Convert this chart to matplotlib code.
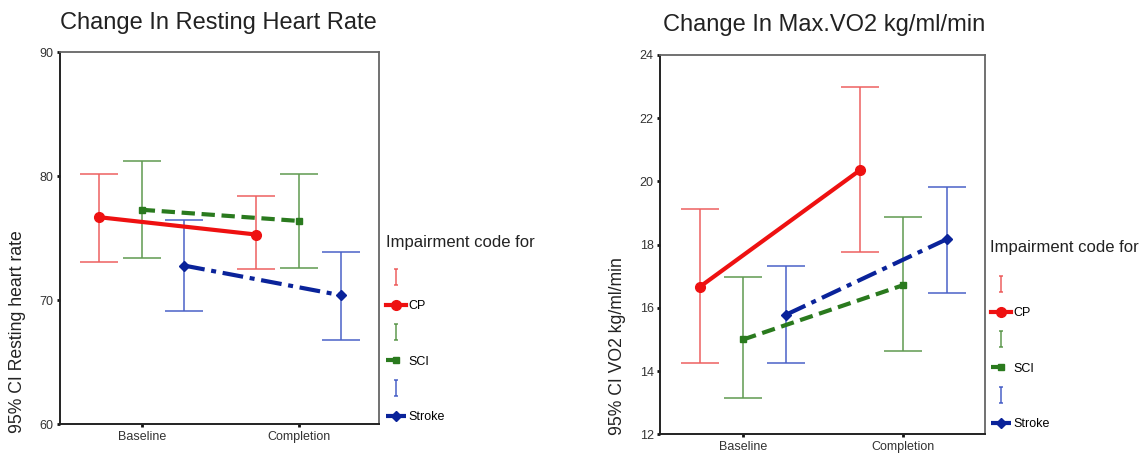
import matplotlib
matplotlib.use("Agg")
import matplotlib.pyplot as plt
from matplotlib.lines import Line2D
from matplotlib.path import Path
import numpy as np

plt.rcParams['font.family'] = ['Liberation Sans', 'DejaVu Sans']

phases = ['Baseline', 'Completion']
groups = ['CP', 'SCI', 'Stroke']

# Resting heart rate: mean, lower CI, upper CI per group (Baseline, Completion)
hr_mean_cp = [76.7, 75.3]
hr_lo_cp = [73.1, 72.5]
hr_hi_cp = [80.2, 78.4]
hr_mean_sci = [77.3, 76.4]
hr_lo_sci = [73.4, 72.6]
hr_hi_sci = [81.2, 80.2]
hr_mean_stroke = [72.8, 70.4]
hr_lo_stroke = [69.1, 66.8]
hr_hi_stroke = [76.5, 73.9]

# Max VO2
vo2_mean_cp = [16.67, 20.36]
vo2_lo_cp = [14.24, 17.76]
vo2_hi_cp = [19.13, 23.0]
vo2_mean_sci = [15.0, 16.72]
vo2_lo_sci = [13.14, 14.64]
vo2_hi_sci = [16.98, 18.88]
vo2_mean_stroke = [15.79, 18.17]
vo2_lo_stroke = [14.27, 16.48]
vo2_hi_stroke = [17.33, 19.83]

hr_yticks = [60, 70, 80, 90]
vo2_yticks = [12, 14, 16, 18, 20, 22, 24]

line_colors = ['#ee1111', '#2a7a1e', '#0a239a']
err_colors = ['#ee6060', '#5f9a50', '#4a62c8']
styles = ['-', (0, (3.2, 1.6)), (0, (5, 1.6, 1.2, 1.6))]
markers = ['o', 's', 'D']
msizes = [7, 5, 5.5]
offsets = [-0.27, 0.0, 0.27]

# small "I" glyph for the error-bar legend entries
ibar = Path([(-0.3, -1), (0.3, -1), (0, -1), (0, 1), (-0.3, 1), (0.3, 1)],
            [Path.MOVETO, Path.LINETO, Path.MOVETO, Path.LINETO, Path.MOVETO, Path.LINETO])

fig = plt.figure(figsize=(11.46, 4.55), dpi=100)

def panel(rect, means, los, his, yticks, ylim, title, title_xy, ylabel, ylabel_xy,
          legtitle_xy, leg_xy):
    ax = fig.add_axes(rect)
    x = np.arange(len(phases))
    ln_handles = []
    for i, g in enumerate(groups):
        xx = x + offsets[i]
        m = np.array(means[i]); lo = np.array(los[i]); hi = np.array(his[i])
        ax.errorbar(xx, m, yerr=[m - lo, hi - m], fmt='none', ecolor=err_colors[i],
                    elinewidth=1.1, capsize=14, capthick=1.1, zorder=2)
        ln, = ax.plot(xx, m, color=line_colors[i], linestyle=styles[i], lw=3,
                      marker=markers[i], markersize=msizes[i], zorder=3)
        ln_handles.append(ln)
    ax.set_xlim(-0.52, 1.51)
    ax.set_ylim(*ylim)
    ax.set_xticks(x)
    ax.set_xticklabels(phases, fontsize=9, color='#333333')
    ax.set_yticks(yticks)
    ax.set_yticklabels([str(t) for t in yticks], fontsize=9, color='#333333')
    ax.tick_params(axis='both', length=2.5, width=2, color='#111111', pad=2)
    for s in ['left', 'bottom']:
        ax.spines[s].set_color('#222222')
        ax.spines[s].set_linewidth(1.4)
    for s in ['top', 'right']:
        ax.spines[s].set_color('#666666')
        ax.spines[s].set_linewidth(1.3)
    fig.text(title_xy[0], title_xy[1], title, fontsize=17, ha='center', va='center', color='#222222')
    fig.text(ylabel_xy[0], ylabel_xy[1], ylabel, fontsize=12.7, rotation=90, ha='center', va='bottom',
             color='#222222')
    fig.text(legtitle_xy[0], legtitle_xy[1], 'Impairment code for', fontsize=12, ha='left',
             va='center', color='#222222')
    handles, labels = [], []
    for i, g in enumerate(groups):
        ih = Line2D([], [], linestyle='none', marker=ibar, markersize=11, markeredgewidth=1.1,
                    markeredgecolor=err_colors[i], markerfacecolor='none')
        handles += [ih, ln_handles[i]]
        labels += ['', g]
    ax.legend(handles, labels, loc='upper left', bbox_to_anchor=leg_xy,
              bbox_transform=fig.transFigure, frameon=False, fontsize=9,
              handlelength=1.6, handletextpad=0.2, labelspacing=1.27, borderpad=0,
              borderaxespad=0)
    return ax

panel([60/1146, 1 - 424.3/455, 319/1146, 372/455],
      [hr_mean_cp, hr_mean_sci, hr_mean_stroke],
      [hr_lo_cp, hr_lo_sci, hr_lo_stroke],
      [hr_hi_cp, hr_hi_sci, hr_hi_stroke],
      hr_yticks, (60, 90), 'Change In Resting Heart Rate', (218/1146, 1 - 23/455),
      '95% CI Resting heart rate', (18/1146, 1 - 433/455),
      (386/1146, 1 - 242/455), (386/1146, 1 - 272/455))

panel([660/1146, 1 - 434.3/455, 325/1146, 379.3/455],
      [vo2_mean_cp, vo2_mean_sci, vo2_mean_stroke],
      [vo2_lo_cp, vo2_lo_sci, vo2_lo_stroke],
      [vo2_hi_cp, vo2_hi_sci, vo2_hi_stroke],
      vo2_yticks, (12, 24), 'Change In Max.VO2 kg/ml/min', (824/1146, 1 - 25/455),
      '95% CI VO2 kg/ml/min', (618/1146, 1 - 435/455),
      (990/1146, 1 - 248/455), (991/1146, 1 - 279/455))

fig.savefig('out.png', dpi=100)
